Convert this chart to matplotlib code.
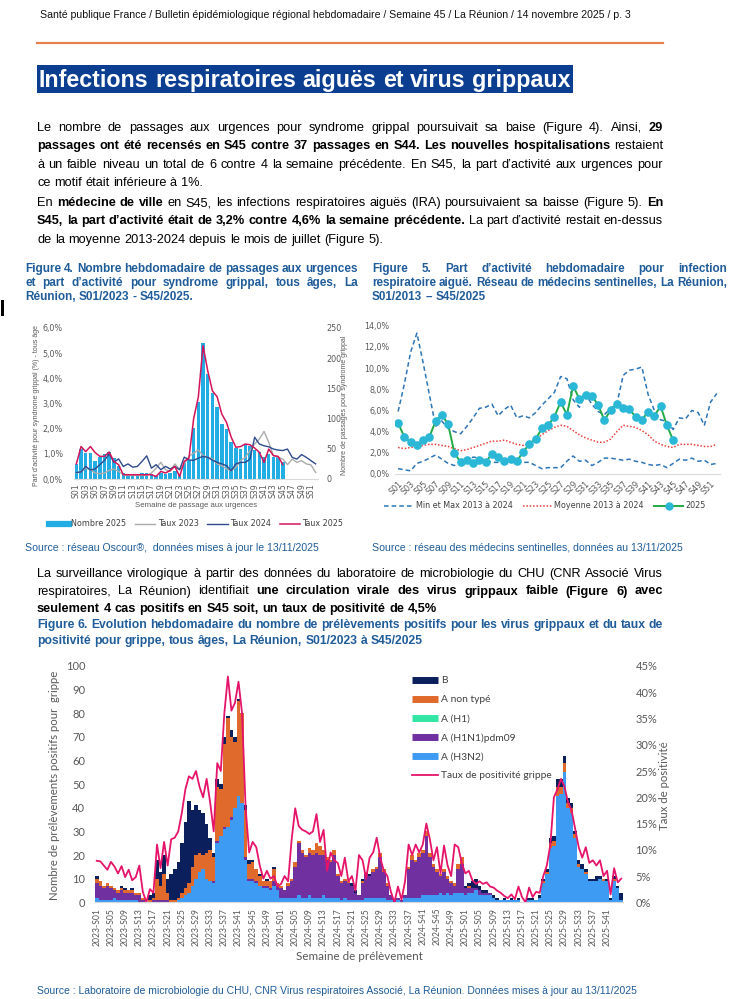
import matplotlib
matplotlib.use('Agg')
import matplotlib.pyplot as plt
from matplotlib import font_manager
from matplotlib.lines import Line2D
from matplotlib.patches import Rectangle
from matplotlib.ticker import FuncFormatter

# ---------------------------------------------------------------- data
# Figure 4 (Oscour) : weeks S01..S52
weeks4 = list(range(1, 53))
week4_labels = ["S%02d" % w for w in weeks4]
nombre_2025 = [25, 49, 43, 43, 29, 37, 42, 44, 35, 21, 10, 9, 9, 9, 10, 10, 8, 5, 10, 9, 10, 14, 6, 26, 31,
               85, 128, 225, 174, 143, 119, 91, 83, 61, 52, 50, 58, 55, 48, 44, 36, 41, 36, 36, 28]
taux_2023 = [0.24, 0.30, 0.43, 0.37, 0.24, 0.21, 0.24, 0.34, 0.40, 0.30, 0.17, 0.14, 0.14, 0.14, 0.14, 0.14,
             0.24, 0.43, 0.66, 0.37, 0.30, 0.60, 0.37, 0.60, 0.90, 1.03, 1.15, 0.93, 0.86, 0.80, 0.60, 0.53,
             0.40, 0.33, 0.46, 0.73, 0.86, 1.13, 1.39, 1.59, 1.89, 1.46, 0.93, 0.86, 0.79, 0.57, 0.79, 0.66,
             0.73, 0.60, 0.56, 0.26]
taux_2024 = [0.26, 0.28, 0.50, 0.36, 0.40, 0.57, 0.74, 1.00, 0.66, 0.80, 0.50, 0.60, 0.47, 0.50, 0.70, 0.92,
             0.43, 0.57, 0.37, 0.50, 0.40, 0.50, 0.37, 0.87, 0.76, 0.74, 0.83, 0.90, 0.86, 0.75, 0.66, 0.60,
             0.53, 0.33, 0.60, 0.66, 0.66, 0.79, 1.66, 1.39, 1.32, 1.28, 1.19, 1.15, 1.13, 1.19, 0.86, 0.79,
             0.97, 0.86, 0.73, 0.60]
taux_2025 = [0.60, 1.29, 1.09, 1.29, 1.05, 0.90, 0.90, 1.07, 0.70, 0.57, 0.17, 0.17, 0.17, 0.17, 0.17, 0.17,
             0.17, 0.10, 0.30, 0.24, 0.34, 0.50, 0.10, 0.70, 0.83, 2.40, 3.26, 5.30, 4.30, 3.50, 3.27, 2.58,
             2.25, 1.66, 1.26, 1.29, 1.39, 1.36, 1.23, 1.06, 0.66, 1.19, 0.93, 0.90, 0.57]

# Figure 5 (sentinel network) : weeks S01..S52
weeks5 = list(range(1, 53))
week5_labels = ["S%02d" % w for w in weeks5]
max_13_24 = [5.9, 8.5, 11.5, 13.3, 10.5, 7.5, 4.5, 5.0, 4.3, 4.0, 3.8, 4.5, 5.3, 6.2, 6.3, 6.6, 5.5, 6.1,
             6.5, 5.3, 5.5, 5.3, 5.8, 6.5, 7.1, 7.7, 9.2, 9.0, 7.0, 6.3, 7.5, 6.6, 5.9, 5.6, 6.2, 6.6, 9.3,
             9.8, 9.9, 10.1, 7.5, 6.0, 5.1, 5.0, 4.2, 5.3, 5.2, 6.0, 5.8, 4.6, 6.8, 7.6]
min_13_24 = [0.5, 0.4, 0.3, 1.0, 1.2, 1.5, 1.8, 1.4, 1.0, 0.8, 1.0, 1.2, 1.6, 1.5, 1.3, 1.1, 1.1, 1.2, 1.1,
             1.1, 1.1, 1.1, 0.8, 0.5, 0.6, 0.6, 0.6, 1.2, 1.7, 1.2, 1.3, 0.8, 1.1, 1.5, 1.5, 1.4, 1.3, 1.4,
             1.2, 1.1, 0.9, 0.8, 0.9, 0.6, 1.0, 1.4, 1.3, 1.5, 1.2, 1.3, 0.9, 1.0]
moy_13_24 = [2.5, 2.4, 2.5, 2.6, 2.7, 2.8, 2.8, 2.7, 2.6, 2.4, 2.2, 2.3, 2.5, 2.7, 2.9, 3.1, 3.1, 3.2, 3.0,
             2.8, 2.7, 2.9, 3.3, 3.7, 4.1, 4.4, 4.6, 4.5, 4.1, 3.7, 3.4, 3.2, 3.0, 3.0, 3.3, 4.0, 4.6, 4.5,
             4.4, 4.1, 3.7, 3.1, 2.8, 2.6, 2.5, 2.8, 2.8, 2.8, 2.7, 2.6, 2.6, 2.8]
ira_2025 = [4.8, 3.5, 3.0, 2.7, 3.2, 3.5, 5.0, 5.6, 4.7, 2.0, 1.1, 1.3, 1.0, 1.3, 1.1, 1.9, 1.6, 1.2, 1.4,
            1.2, 2.1, 2.8, 3.3, 4.3, 4.6, 5.4, 6.8, 5.6, 8.3, 7.1, 7.5, 7.4, 6.5, 5.1, 6.0, 6.6, 6.2, 6.1,
            5.4, 5.1, 5.9, 5.5, 6.4, 4.6, 3.2]

# Figure 6 (virology) : 2023-S01 .. 2025-S45
week6_labels = (["2023-S%02d" % w for w in range(1, 53)] + ["2024-S%02d" % w for w in range(1, 53)]
                + ["2025-S%02d" % w for w in range(1, 46)])
h3n2 = ([2, 1, 1, 1, 1, 2, 1, 1, 1, 1, 1, 1, 0, 0, 0, 0, 0, 0, 0, 0, 0, 0, 0, 1, 2, 3, 4, 7, 10, 13, 14, 10,
         9, 8, 25, 28, 31, 32, 35, 40, 45, 42, 18, 9, 9, 8, 7, 6, 6, 5, 7, 5] +
        [2, 2, 2, 2, 2, 3, 2, 2, 3, 2, 2, 2, 3, 2, 2, 2, 2, 1, 2, 1, 1, 1, 1, 1, 2, 2, 2, 2, 2, 2, 1, 1, 0,
         1, 0, 2, 2, 2, 2, 2, 3, 3, 3, 3, 3, 4, 3, 4, 3, 4, 4, 4] +
        [3, 4, 4, 5, 3, 3, 3, 3, 2, 1, 1, 1, 1, 1, 1, 1, 0, 1, 1, 1, 1, 2, 8, 12, 23, 24, 45, 46, 55, 40,
         38, 27, 15, 14, 12, 9, 9, 9, 10, 9, 9, 1, 9, 6, 1])
h1n1 = ([6, 6, 5, 6, 5, 3, 3, 4, 3, 3, 3, 2, 3, 1, 0, 0, 1, 1, 1, 1, 1, 0, 0, 0, 0, 0, 0, 0, 0, 0, 0, 0,
         0, 1, 1, 0, 1, 0, 1, 0, 0, 0, 1, 1, 1, 1, 0, 1, 1, 1, 2, 2] +
        [4, 3, 5, 7, 13, 22, 19, 17, 18, 18, 19, 18, 17, 16, 15, 18, 9, 7, 7, 7, 6, 3, 2, 7, 10, 9, 11, 12,
         17, 11, 6, 2, 1, 1, 1, 1, 12, 16, 15, 17, 18, 25, 16, 12, 10, 7, 10, 6, 5, 3, 10, 12] +
        [3, 2, 2, 1, 2, 1, 1, 1, 0, 0, 0, 0, 0, 0, 0, 0, 0, 0, 0, 0, 0, 0, 0, 0, 0, 0, 0, 0, 0, 0,
         0, 0, 0, 0, 0, 0, 0, 0, 0, 0, 0, 0, 0, 0, 0])
h1 = [0] * len(week6_labels)
a_non_type = ([2, 2, 1, 1, 1, 1, 1, 1, 1, 1, 1, 1, 1, 1, 0, 1, 1, 9, 6, 11, 3, 1, 1, 1, 2, 3, 4, 8, 10, 8,
               6, 11, 13, 10, 23, 20, 35, 46, 34, 28, 40, 38, 20, 6, 7, 5, 4, 2, 2, 3, 5, 1] +
              [1, 0, 1, 1, 2, 1, 1, 1, 2, 2, 4, 4, 2, 1, 1, 2, 1, 1, 1, 1, 0, 0, 0, 1, 1, 0, 1, 1, 2, 1,
               1, 0, 0, 0, 0, 0, 1, 2, 1, 2, 1, 2, 2, 1, 1, 1, 1, 1, 1, 1, 2, 3] +
              [0, 1, 0, 0, 0, 0, 0, 0, 0, 0, 0, 0, 0, 0, 0, 0, 0, 0, 0, 0, 0, 0, 1, 1, 2, 2, 4, 3, 4, 2,
               2, 2, 1, 0, 1, 0, 0, 0, 0, 1, 0, 0, 1, 0, 0])
b_virus = ([1, 0, 0, 0, 0, 0, 0, 1, 1, 0, 1, 0, 0, 0, 0, 2, 2, 8, 6, 8, 6, 11, 13, 15, 21, 28, 35, 24, 21,
            18, 18, 12, 5, 2, 3, 2, 3, 1, 3, 2, 1, 0, 2, 2, 1, 0, 1, 0, 1, 0, 1, 0] +
           [0, 0, 0, 0, 0, 0, 0, 0, 0, 0, 0, 0, 0, 0, 0, 0, 0, 0, 0, 0, 1, 1, 0, 1, 0, 1, 0, 0, 0, 0,
            0, 0, 0, 0, 0, 0, 0, 0, 0, 0, 0, 0, 0, 0, 0, 0, 0, 0, 0, 0, 0, 0] +
           [1, 1, 3, 4, 2, 1, 1, 0, 1, 1, 0, 1, 0, 1, 0, 1, 0, 0, 1, 1, 0, 1, 1, 1, 2, 2, 3, 3, 3, 2,
            2, 1, 2, 2, 1, 1, 1, 2, 1, 0, 1, 1, 1, 1, 3])
taux_pos = ([7.9, 7.8, 7.0, 6.2, 7.7, 6.8, 5.5, 6.9, 4.8, 6.2, 4.2, 4.8, 7.0, 2.0, 0.0, 2.5, 1.8, 11.0, 6.5,
             11.5, 7.0, 12.0, 12.3, 13.5, 17.0, 21.5, 24.0, 23.5, 25.0, 22.0, 20.0, 23.5, 19.0, 13.5, 26.5,
             25.0, 36.0, 43.0, 36.5, 38.0, 42.0, 36.0, 18.0, 9.5, 11.5, 10.5, 7.0, 4.5, 6.0, 4.5, 5.0, 3.0] +
            [3.5, 5.0, 4.0, 12.0, 17.9, 14.5, 13.8, 13.5, 13.0, 13.5, 16.8, 11.5, 13.8, 6.0, 9.5, 8.0, 7.5,
             5.0, 8.5, 4.0, 5.0, 2.2, 9.0, 8.0, 4.5, 8.5, 9.5, 12.3, 8.5, 6.0, 5.0, 2.0, 0.0, 3.0, 0.5,
             4.0, 11.0, 9.0, 11.0, 9.5, 11.0, 15.0, 12.0, 8.0, 10.5, 5.5, 10.8, 7.0, 5.0, 11.0, 10.5, 7.5] +
            [5.5, 6.0, 4.2, 3.5, 4.0, 3.5, 3.8, 3.0, 2.8, 2.2, 1.8, 1.2, 0.8, 1.5, 0.6, 3.0, 1.0, 0.0, 2.8,
             1.0, 2.0, 1.8, 5.0, 7.0, 11.0, 20.0, 21.5, 23.5, 22.0, 19.0, 17.5, 14.0, 10.5, 8.5, 10.5, 7.5,
             8.0, 7.0, 8.0, 5.0, 6.0, 1.5, 6.5, 3.8, 4.5])

# ---------------------------------------------------------------- setup
W, H = 734, 999
fig = plt.figure(figsize=(W / 100, H / 100), dpi=100)
fig.patch.set_facecolor('white')
names = {f.name for f in font_manager.fontManager.ttflist}
NARROW = 'Liberation Sans Narrow' if 'Liberation Sans Narrow' in names else 'Liberation Sans'
SANS = 'Liberation Sans' if 'Liberation Sans' in names else 'DejaVu Sans'
CAL = 'Lato' if 'Lato' in names else SANS
R = fig.canvas.get_renderer()
BLUE_T = '#1F5C99'
GRAY = '#595959'


def fx(x):
    return x / W


def fy(y):
    return 1 - y / H


def box(l, t, r, b):
    return [l / W, 1 - b / H, (r - l) / W, (b - t) / H]


def split_words(tokens):
    out = []
    for s, b in tokens:
        for w in s.split():
            out.append((w, b))
    return out


def tw(s, size, family, bold=False):
    t = fig.text(0, 0, s, fontsize=size, family=family, fontweight='bold' if bold else 'normal')
    w = t.get_window_extent(R).width
    t.remove()
    return w


def space_w(size, family, bold=False):
    return tw('x x', size, family, bold) - tw('xx', size, family, bold)


def natural(tokens, size, family):
    ws = split_words(tokens)
    return sum(tw(w, size, family, b) for w, b in ws) + space_w(size, family) * (len(ws) - 1)


def draw_line(tokens, x0, y, size, family, color='black', x1=None, justify=False):
    ws = split_words(tokens)
    widths = [tw(w, size, family, b) for w, b in ws]
    if justify and x1 is not None and len(ws) > 1:
        gap = (x1 - x0 - sum(widths)) / (len(ws) - 1)
    else:
        gap = space_w(size, family)
    x = x0
    for (w, b), wd in zip(ws, widths):
        fig.text(fx(x), fy(y), w, fontsize=size, family=family, color=color,
                 fontweight='bold' if b else 'normal', va='baseline', ha='left')
        x += wd + gap


def fit_size(lines, avail, size, family):
    m = max(natural(l, size, family) for l in lines)
    return size * min(1.0, avail / m) if m > avail else size


def paragraph(lines, x0, x1, y0, dy, size, family, color='black', last_justify=False):
    size = fit_size(lines[:-1] if len(lines) > 1 else lines, x1 - x0, size, family)
    for i, l in enumerate(lines):
        last = (i == len(lines) - 1)
        draw_line(l, x0, y0 + i * dy, size, family, color, x1, justify=(not last) or last_justify)
    return size


# ---------------------------------------------------------------- page texts
hdr = "Santé publique France / Bulletin épidémiologique régional hebdomadaire / Semaine 45 / La Réunion / 14 novembre 2025 / p. 3"
hs = 9.0 * (592 / natural([(hdr, False)], 9.0, NARROW))
fig.text(fx(40), fy(18), hdr, fontsize=hs, family=NARROW, color='#111111', va='baseline')

fig.add_artist(Line2D([fx(37), fx(663)], [fy(43), fy(43)], transform=fig.transFigure,
                      color='#E9804D', lw=1.6))

fig.add_artist(Rectangle((fx(37), fy(93)), (573 - 37) / W, 28 / H, transform=fig.transFigure,
                         facecolor='#0B3D91', edgecolor='none'))
ttl = "Infections respiratoires aiguës et virus grippaux"
ts = 17.0 * (531 / natural([(ttl, True)], 17.0, NARROW))
draw_line([(ttl, True)], 39, 87, ts, NARROW, 'white')

fig.add_artist(Rectangle((fx(1), fy(316)), 3 / W, 16 / H, transform=fig.transFigure,
                         facecolor='black', edgecolor='none'))

p1 = [
    [("Le nombre de passages aux urgences pour syndrome grippal poursuivait sa baise (Figure 4). Ainsi,", False), ("29", True)],
    [("passages ont été recensés en S45 contre 37 passages en S44. Les nouvelles hospitalisations", True), ("restaient", False)],
    [("à un faible niveau un total de 6 contre 4 la semaine précédente. En S45, la part d’activité aux urgences pour", False)],
    [("ce motif était inférieure à 1%.", False)],
]
p2 = [
    [("En", False), ("médecine de ville", True), ("en S45, les infections respiratoires aiguës (IRA) poursuivaient sa baisse (Figure 5).", False), ("En", True)],
    [("S45, la part d’activité était de 3,2% contre 4,6% la semaine précédente.", True), ("La part d’activité restait en-dessus", False)],
    [("de la moyenne 2013-2024 depuis le mois de juillet (Figure 5).", False)],
]
p3 = [
    [("La surveillance virologique à partir des données du laboratoire de microbiologie du CHU (CNR Associé Virus", False)],
    [("respiratoires, La Réunion) identifiait", False), ("une circulation virale des virus grippaux faible (Figure 6) avec", True)],
    [("seulement 4 cas positifs en S45 soit, un taux de positivité de 4,5%", True)],
]
BODY = 11.0
bs = min(fit_size(p1[:3], 626, BODY, NARROW), fit_size(p2[:2], 626, BODY, NARROW),
         fit_size(p3[:2], 626, BODY, NARROW))
paragraph(p1, 37, 663, 131, 18.3, bs, NARROW)
paragraph(p2, 37, 663, 206, 18.3, bs, NARROW)
paragraph(p3, 37, 663, 577, 17.5, bs, NARROW)

f4t = [[("Figure 4. Nombre hebdomadaire de passages aux urgences", True)],
       [("et part d’activité pour syndrome grippal, tous âges, La", True)],
       [("Réunion, S01/2023 - S45/2025.", True)]]
f5t = [[("Figure 5.  Part d’activité hebdomadaire pour infection", True)],
       [("respiratoire aiguë. Réseau de médecins sentinelles, La Réunion,", True)],
       [("S01/2013 – S45/2025", True)]]
paragraph(f4t, 25, 358, 272, 14, 8.6, SANS, BLUE_T)
paragraph(f5t, 372, 727, 272, 14, 8.6, SANS, BLUE_T)

f6t = [[("Figure 6. Evolution hebdomadaire du nombre de prélèvements positifs pour les virus grippaux et du taux de", True)],
       [("positivité pour grippe, tous âges, La Réunion, S01/2023 à S45/2025", True)]]
paragraph(f6t, 37, 663, 628, 16, 10.5, NARROW, BLUE_T)

src4 = "Source : réseau Oscour®,  données mises à jour le 13/11/2025"
src5 = "Source : réseau des médecins sentinelles, données au 13/11/2025"
src6 = "Source : Laboratoire de microbiologie du CHU, CNR Virus respiratoires Associé, La Réunion. Données mises à jour au 13/11/2025"
s4 = 8.0 * 293 / natural([(src4, False)], 8.0, NARROW)
fig.text(fx(25), fy(551), src4, fontsize=s4, family=NARROW, color=BLUE_T, va='baseline')
fig.text(fx(372), fy(551), src5, fontsize=s4, family=NARROW, color=BLUE_T, va='baseline')
s6 = 8.0 * 603 / natural([(src6, False)], 8.0, NARROW)
fig.text(fx(37), fy(994), src6, fontsize=s6, family=NARROW, color=BLUE_T, va='baseline')

# ---------------------------------------------------------------- Figure 4
ax4 = fig.add_axes(box(74, 328, 318, 479))
ax4.bar(weeks4[:len(nombre_2025)], nombre_2025, width=0.75, color='#22AEE4', zorder=1)
ax4.set_xlim(0.5, 52.5)
ax4.set_ylim(0, 250)
ax4.set_xticks(weeks4[::2])
ax4.set_xticklabels(week4_labels[::2], rotation=90, fontsize=5.6, color=GRAY)
ax4.tick_params(axis='x', length=0, pad=3)
for s in ['top', 'left', 'right']:
    ax4.spines[s].set_visible(False)
ax4.spines['bottom'].set_color('#D9D9D9')
ax4b = ax4.twinx()
ax4.yaxis.tick_right()
ax4.set_yticks([0, 50, 100, 150, 200, 250])
ax4.tick_params(axis='y', length=0, labelsize=5.8, labelcolor=GRAY, pad=6,
                left=False, labelleft=False, right=True, labelright=True)
ax4b.plot(weeks4, taux_2023, color='#ABABAB', lw=1.0)
ax4b.plot(weeks4, taux_2024, color='#2F4A8E', lw=1.0)
ax4b.plot(weeks4[:len(taux_2025)], taux_2025, color='#D4145A', lw=1.1)
ax4b.set_ylim(0, 6)
ax4b.set_yticks([0, 1, 2, 3, 4, 5, 6])
ax4b.yaxis.set_major_formatter(FuncFormatter(lambda v, p: ("%.1f%%" % v).replace('.', ',')))
ax4b.yaxis.tick_left()
ax4b.tick_params(axis='y', length=0, labelsize=5.8, labelcolor=GRAY, pad=8, left=True, labelleft=True,
                 right=False, labelright=False)
for s in ['top', 'left', 'right', 'bottom']:
    ax4b.spines[s].set_visible(False)
fig.text(fx(37), fy(405), "Part d’activité pour syndrome grippal (%) - tous âge", rotation=90,
         fontsize=5.0, color=GRAY, ha='center', va='center', family=SANS)
fig.text(fx(345), fy(405), "Nombre de passages pour syndrome grippal", rotation=90,
         fontsize=5.0, color=GRAY, ha='center', va='center', family=SANS)
fig.text(fx(196), fy(505), "Semaine de passage aux urgences", fontsize=5.6, color=GRAY,
         ha='center', va='center', family=SANS)
h4 = [Line2D([], [], color='#22AEE4', lw=4.5), Line2D([], [], color='#ABABAB', lw=1.0),
      Line2D([], [], color='#2F4A8E', lw=1.0), Line2D([], [], color='#D4145A', lw=1.1)]
fig.legend(h4, ["Nombre 2025", "Taux 2023", "Taux 2024", "Taux 2025"], loc='center',
           bbox_to_anchor=(fx(196), fy(524)), bbox_transform=fig.transFigure, ncol=4, frameon=False,
           fontsize=5.8, handlelength=2.5, handletextpad=0.3, columnspacing=1.1,
           labelcolor='#404040')

# ---------------------------------------------------------------- Figure 5
ax5 = fig.add_axes(box(395, 325.7, 720, 474))
ax5.plot(weeks5, max_13_24, color='#2E75B6', lw=1.1, dashes=(3, 2))
ax5.plot(weeks5, min_13_24, color='#2E75B6', lw=1.1, dashes=(3, 2))
ax5.plot(weeks5, moy_13_24, color='#E8413C', lw=1.1, linestyle=(0, (1, 1.2)))
ax5.plot(weeks5[:len(ira_2025)], ira_2025, color='#22AA44', lw=1.4, marker='o', ms=5.2,
         mfc='#2AB8D6', mec='#2AB8D6')
ax5.set_xlim(0.5, 52.5)
ax5.set_ylim(0, 14)
ax5.set_yticks([0, 2, 4, 6, 8, 10, 12, 14])
ax5.yaxis.set_major_formatter(FuncFormatter(lambda v, p: ("%.1f%%" % v).replace('.', ',')))
ax5.tick_params(axis='y', length=0, labelsize=5.8, labelcolor=GRAY, pad=4)
ax5.set_xticks(weeks5[::2])
ax5.set_xticklabels(week5_labels[::2], rotation=45, ha='right', rotation_mode='anchor',
                    fontsize=5.8, color=GRAY)
ax5.tick_params(axis='x', length=0, pad=4)
for s in ['top', 'left', 'right']:
    ax5.spines[s].set_visible(False)
ax5.spines['bottom'].set_color('#D9D9D9')
h5 = [Line2D([], [], color='#2E75B6', lw=1.1, dashes=(3, 2)),
      Line2D([], [], color='#E8413C', lw=1.1, linestyle=(0, (1, 1.2))),
      Line2D([], [], color='#22AA44', lw=1.4, marker='o', ms=5, mfc='#2AB8D6', mec='#2AB8D6')]
fig.legend(h5, ["Min et Max 2013 à 2024", "Moyenne 2013 à 2024", "2025"], loc='center',
           bbox_to_anchor=(fx(545), fy(506)), bbox_transform=fig.transFigure, ncol=3, frameon=False,
           fontsize=5.8, handlelength=3.6, handletextpad=0.3, columnspacing=1.3, labelcolor='#404040')

# ---------------------------------------------------------------- Figure 6
ax6 = fig.add_axes(box(95, 666, 623, 902.3))
x6 = list(range(len(week6_labels)))
cols = {'h3n2': '#3D9BF3', 'h1n1': '#7030A0', 'h1': '#33E6A3', 'ant': '#E06A2B', 'b': '#0B1F5C'}
bottom = [0] * len(x6)
for vals, c in [(h3n2, cols['h3n2']), (h1n1, cols['h1n1']), (h1, cols['h1']),
                (a_non_type, cols['ant']), (b_virus, cols['b'])]:
    ax6.bar(x6, vals, bottom=bottom, width=1.0, color=c, linewidth=0)
    bottom = [bb + v for bb, v in zip(bottom, vals)]
ax6.set_xlim(-0.5, len(x6) - 0.5)
ax6.set_ylim(0, 100)
ax6.set_yticks(range(0, 101, 10))
ax6.tick_params(axis='y', length=0, labelsize=8, labelcolor=GRAY, pad=7)
ax6.set_xticks(x6[:145:4])
ax6.set_xticklabels(week6_labels[:145:4], rotation=90, fontsize=6.2, color=GRAY)
ax6.tick_params(axis='x', length=0, pad=4)
for lab in ax6.get_xticklabels() + ax6.get_yticklabels():
    lab.set_family(CAL)
for s in ['top', 'left', 'right']:
    ax6.spines[s].set_visible(False)
ax6.spines['bottom'].set_color('#D9D9D9')
ax6r = ax6.twinx()
ax6r.plot(x6, taux_pos, color='#E5146A', lw=1.3)
ax6r.set_ylim(0, 45)
ax6r.set_yticks(range(0, 46, 5))
ax6r.yaxis.set_major_formatter(FuncFormatter(lambda v, p: "%d%%" % v))
ax6r.tick_params(axis='y', length=0, labelsize=8, labelcolor=GRAY, pad=9)
for lab in ax6r.get_yticklabels():
    lab.set_family(CAL)
for s in ['top', 'left', 'right', 'bottom']:
    ax6r.spines[s].set_visible(False)
fig.text(fx(55), fy(785), "Nombre de prélèvements positifs pour  grippe", rotation=90, fontsize=8.2,
         color=GRAY, ha='center', va='center', family=CAL)
fig.text(fx(664), fy(786), "Taux de positivité", rotation=90, fontsize=8.2,
         color=GRAY, ha='center', va='center', family=CAL)
fig.text(fx(359), fy(957), "Semaine de prélèvement", fontsize=8.4, color=GRAY,
         ha='center', va='center', family=CAL)
h6 = [Line2D([], [], color=cols['b'], lw=5, solid_capstyle='butt'),
      Line2D([], [], color=cols['ant'], lw=5, solid_capstyle='butt'),
      Line2D([], [], color=cols['h1'], lw=5, solid_capstyle='butt'),
      Line2D([], [], color=cols['h1n1'], lw=5, solid_capstyle='butt'),
      Line2D([], [], color=cols['h3n2'], lw=5, solid_capstyle='butt'),
      Line2D([], [], color='#E5146A', lw=1.3)]
fig.legend(h6, ["B", "A non typé", "A (H1)", "A (H1N1)pdm09", "A (H3N2)", "Taux de positivité grippe"],
           loc='upper left', bbox_to_anchor=(fx(407), fy(671)), bbox_transform=fig.transFigure,
           frameon=False, prop={'family': CAL, 'size': 7.4}, handlelength=2.5, handletextpad=0.3,
           labelspacing=0.95, borderpad=0, labelcolor='#404040')

fig.savefig('out.png', dpi=100, facecolor='white')
